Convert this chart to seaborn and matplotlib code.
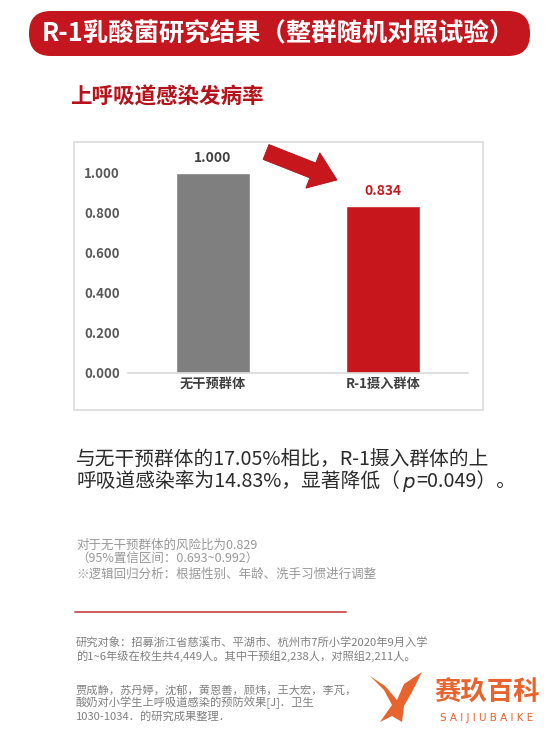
import numpy as np
import pandas as pd
import matplotlib
matplotlib.use("Agg")
import matplotlib.pyplot as plt
import seaborn as sns
from matplotlib.patches import FancyBboxPatch, Rectangle, FancyArrow, Polygon
from matplotlib.transforms import Affine2D

# =========================
# Datos
# =========================
groups = ["无干预群体", "R-1摄入群体"]
values = [1.000, 0.834]
bar_colors = ["#7F7F7F", "#C8161D"]
label_colors = ["#404040", "#C8161D"]
yticks = [0.0, 0.2, 0.4, 0.6, 0.8, 1.0]

title = "R-1乳酸菌研究结果（整群随机对照试验）"
subtitle = "上呼吸道感染发病率"
summary_line1 = "与无干预群体的17.05%相比，R-1摄入群体的上"
summary_line2 = ["呼吸道感染率为14.83%，显著降低（", "p", "=0.049）。"]
notes = [
    "对于无干预群体的风险比为0.829",
    "（95%置信区间：0.693~0.992）",
    "※逻辑回归分析：根据性别、年龄、洗手习惯进行调整",
]
study_lines = [
    "研究对象：招募浙江省慈溪市、平湖市、杭州市7所小学2020年9月入学",
    "的1~6年级在校生共4,449人。其中干预组2,238人，对照组2,211人。",
]
ref_lines = [
    "贾成静，苏丹婷，沈郁，黄恩善，顾炜，王大宏，李芃，",
    "酸奶对小学生上呼吸道感染的预防效果[J]．卫生",
    "1030-1034．的研究成果整理．",
]

# =========================
# Figura
# =========================
sns.set_style("white")
plt.rcParams["font.family"] = ["Noto Sans CJK SC", "DejaVu Sans"]

W, H = 554, 746
fig = plt.figure(figsize=(W / 100, H / 100), dpi=100)
fig.patch.set_facecolor("white")
# coordenadas en pixeles (origen arriba a la izquierda)
pix = Affine2D().scale(1 / W, -1 / H).translate(0, 1) + fig.transFigure

RED = "#C8161D"

# Título en cápsula roja
pill = FancyBboxPatch((29, 11), 501, 45, boxstyle="round,pad=0,rounding_size=22",
                      facecolor="#C3161F", edgecolor="none", transform=pix)
fig.patches.append(pill)
fig.text(278, 34, title, transform=pix, color="white", fontsize=18.3,
         fontweight="bold", ha="center", va="center")

fig.text(70, 97, subtitle, transform=pix, color="#B5121B", fontsize=15.5,
         fontweight="bold", ha="left", va="center")

# Marco del gráfico
fig.patches.append(Rectangle((74, 142), 409, 268, fill=False, edgecolor="#DCDCDC",
                             lw=1.2, transform=pix))

# =========================
# Barras
# =========================
ax = fig.add_axes([128 / W, 1 - 373 / H, 340 / W, 223 / H])
df = pd.DataFrame({"group": groups, "value": values})
sns.barplot(data=df, x="group", y="value", hue="group", palette=bar_colors,
            width=0.435, legend=False, ax=ax, saturation=1)
ax.set_xlim(-0.5, 1.5)
ax.set_ylim(0, 1.115)
ax.set_yticks(yticks)
ax.set_yticklabels([f"{t:.3f}" for t in yticks])
ax.set_xlabel("")
ax.set_ylabel("")
for s in ["top", "left", "right"]:
    ax.spines[s].set_visible(False)
ax.spines["bottom"].set_color("#D9D9D9")
ax.spines["bottom"].set_linewidth(1.2)
ax.tick_params(axis="y", length=0, pad=6, labelsize=9.5, labelcolor="#595959")
ax.tick_params(axis="x", length=0, pad=3, labelsize=9.5, labelcolor="#404040")
for lab in ax.get_xticklabels() + ax.get_yticklabels():
    lab.set_fontweight("bold")
ax.patch.set_alpha(0)

for cont, col in zip(ax.containers, label_colors):
    ax.bar_label(cont, fmt="%.3f", padding=6, color=col, fontweight="bold", fontsize=10)

# Flecha roja
fig.patches.append(FancyArrow(266, 152, 71, 28, width=16, head_width=38, head_length=26,
                              length_includes_head=True, facecolor=RED, edgecolor="#B01018",
                              lw=0.6, transform=pix))

# =========================
# Textos
# =========================
fig.text(76, 460, summary_line1, transform=pix, color="#2B2B2B", fontsize=14.2,
         ha="left", va="center")

fig.canvas.draw()
rend = fig.canvas.get_renderer()
x = 76
for i, part in enumerate(summary_line2):
    if part == "p":
        t = fig.text(x + 2, 482, part, transform=pix, color="#2B2B2B", fontsize=14.2,
                     ha="left", va="center", family="DejaVu Sans", style="italic")
    else:
        t = fig.text(x, 482, part, transform=pix, color="#2B2B2B", fontsize=14.2,
                     ha="left", va="center")
    bb = t.get_window_extent(renderer=rend)
    x = bb.x1 + (2 if part == "p" else 0)

for yy, line in zip([545, 559, 574], notes):
    fig.text(76, yy, line, transform=pix, color="#999999", fontsize=9,
             ha="left", va="center")

fig.add_artist(plt.Line2D([75, 346], [612, 612], color="#C9504F", lw=1.3, transform=pix))

for yy, line in zip([642, 656], study_lines):
    fig.text(76, yy, line, transform=pix, color="#808080", fontsize=8.1,
             ha="left", va="center")
for yy, line in zip([690, 703, 716], ref_lines):
    fig.text(76, yy, line, transform=pix, color="#808080", fontsize=8.1,
             ha="left", va="center")

# Marca de agua
ORANGE = "#E8642E"
tail = Polygon([(370, 676), (385, 686), (397, 700), (404, 684), (422, 672),
                (412, 692), (404, 706), (402, 722), (392, 716), (380, 722),
                (392, 705), (384, 690)], closed=True, facecolor=ORANGE,
               edgecolor="none", transform=pix)
fig.patches.append(tail)
fig.text(487, 693, "赛玖百科", transform=pix, color=ORANGE, fontsize=19,
         fontweight="bold", ha="center", va="center")
fig.text(487, 718, "S A I J I U B A I K E", transform=pix, color=ORANGE, fontsize=7.5,
         ha="center", va="center", family="DejaVu Sans")

fig.savefig("out.png", dpi=100, facecolor="white")
